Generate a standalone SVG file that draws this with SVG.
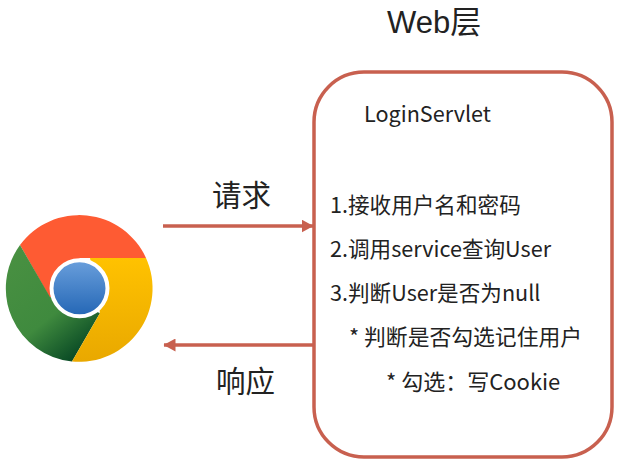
<svg xmlns="http://www.w3.org/2000/svg" width="635" height="471" viewBox="0 0 635 471">
<style>
text{font-family:"Noto Sans CJK SC","Noto Sans",sans-serif;fill:#222}
.b{font-size:21.6px}
.l{font-size:29.5px}
.t{font-family:"Liberation Sans","Noto Sans CJK SC",sans-serif;font-size:31px}
.c{stroke:#c8604f;stroke-width:3.5;fill:none}
.s{stroke:#888;stroke-width:3;fill:none;opacity:.55;filter:url(#blur)}
</style>
<defs>
<marker id="a" markerUnits="userSpaceOnUse" markerWidth="13" markerHeight="13" refX="11.500" refY="6.500" orient="auto"><path d="M0 0L12 6.500L0 13Z" fill="#c8604f"/></marker>
<filter id="blur" x="-10%" y="-500%" width="120%" height="1100%"><feGaussianBlur stdDeviation="1.200"/></filter>
<linearGradient id="blue" x1="0" y1="0" x2="0" y2="1"><stop offset="0" stop-color="#6a9fdc"/><stop offset="1" stop-color="#2366b5"/></linearGradient>
<linearGradient id="green" x1="0" y1="0" x2=".65" y2="1"><stop offset="0" stop-color="#4a9142"/><stop offset=".65" stop-color="#3f8a3e"/><stop offset="1" stop-color="#0c4d26"/></linearGradient>
<linearGradient id="yel" x1="0" y1="0" x2="0" y2="1"><stop offset="0" stop-color="#ffc200"/><stop offset="1" stop-color="#e9a800"/></linearGradient>
</defs>
<rect width="635" height="471" fill="#fff"/>
<g id="browser">
<path d="M20 245A73.500 73.500 0 0 1 146 258H80L50 298Z" fill="#fe5b33"/>
<path d="M20 245L50 297L100 313L72 361.500A73.500 73.500 0 0 1 20 245Z" fill="url(#green)"/>
<path d="M146 258A73.500 73.500 0 0 1 72 361.500L100 313L90 258Z" fill="url(#yel)"/>
<circle cx="79.500" cy="288.300" r="28" fill="url(#blue)" stroke="#fff" stroke-width="4"/>
</g>
<g id="web-layer">
<rect x="314" y="72" width="298" height="385" rx="50" ry="50" fill="#fff" stroke="#c8604f" stroke-width="3.500"/>
<text class="t" x="387" y="33">Web层</text>
<text class="b" x="364" y="122">LoginServlet</text>
<text class="b" x="330" y="213">1.接收用户名和密码</text>
<text class="b" x="330" y="257">2.调用service查询User</text>
<text class="b" x="330" y="301">3.判断User是否为null</text>
<text class="b" x="349" y="345" style="font-size:21.800px">* 判断是否勾选记住用户</text>
<text class="b" x="386" y="390" style="font-size:22px">* 勾选：写Cookie</text>
</g>
<g id="connectors">
<path class="s" d="M164 230H310"/>
<path class="s" d="M312 349H170"/>
<path class="c" d="M163 226H313" marker-end="url(#a)"/>
<path class="c" d="M313 345H164" marker-end="url(#a)"/>
</g>
<g id="labels">
<text class="l" x="212" y="206">请求</text>
<text class="l" x="216" y="392">响应</text>
</g>
</svg>
